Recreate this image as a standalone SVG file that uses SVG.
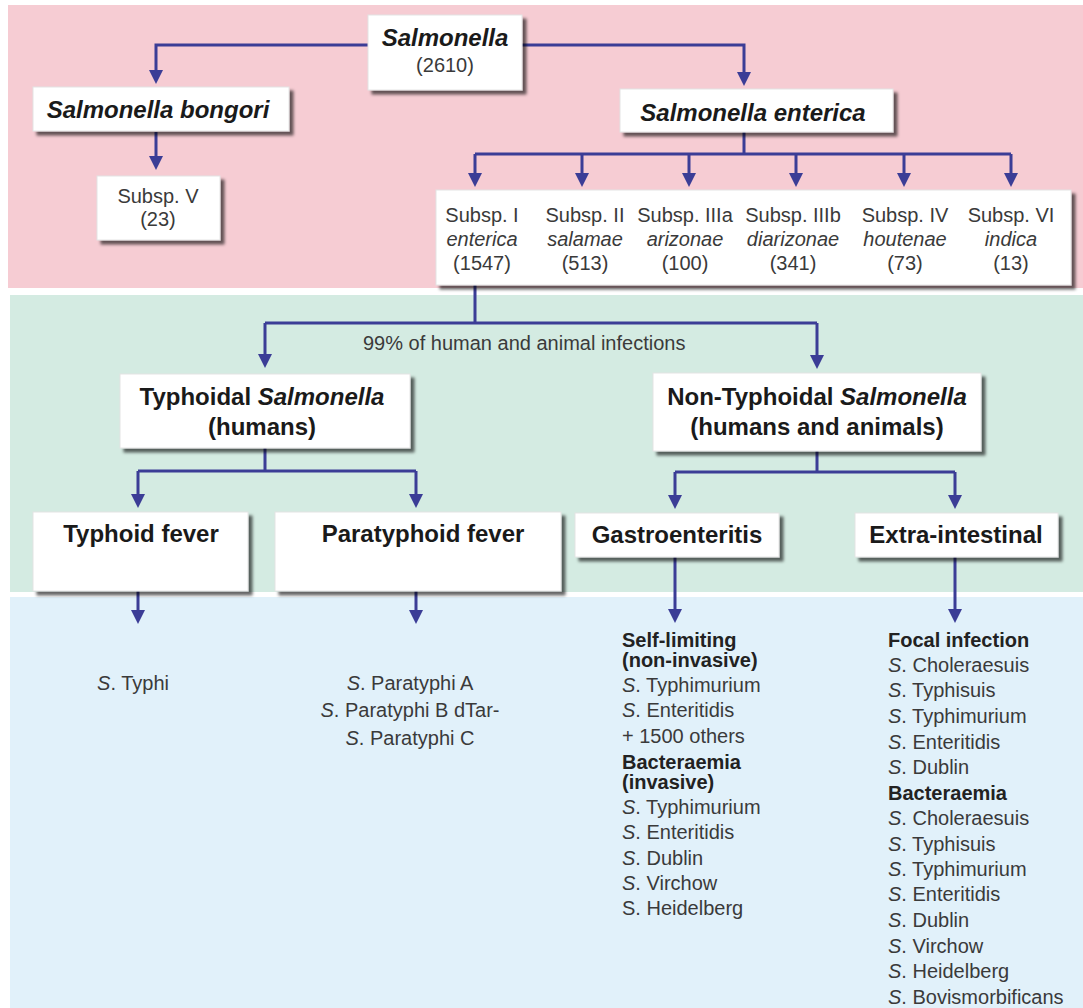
<svg xmlns="http://www.w3.org/2000/svg" width="1083" height="1008" viewBox="0 0 1083 1008">
<defs>
<filter id="sh" x="-10%" y="-20%" width="130%" height="160%">
<feDropShadow dx="4" dy="4" stdDeviation="1.6" flood-color="#000" flood-opacity="0.6"/>
</filter>
<marker id="ah" viewBox="0 0 14 14" markerWidth="15" markerHeight="14" refX="10" refY="7" orient="auto" markerUnits="userSpaceOnUse">
<path d="M0,0 L14,7 L0,14 z" fill="#3b3d96"/>
</marker>
<style>
.box{fill:#fff;stroke:#e4e4e4;stroke-width:1;filter:url(#sh)}
.t{font-family:"Liberation Sans",Arial,sans-serif;font-size:20px;fill:#3a3a3a}
.b{font-family:"Liberation Sans",Arial,sans-serif;font-size:24px;font-weight:bold;fill:#1a1a1a}
.h{font-family:"Liberation Sans",Arial,sans-serif;font-size:20px;font-weight:bold;fill:#222}
.c{text-anchor:middle}
.i{font-style:italic}
.ln{fill:none;stroke:#3b3d96;stroke-width:3}
</style>
</defs>
<rect width="1083" height="1008" fill="#fff"/>
<rect x="8" y="5" width="1075" height="283" fill="#f6ccd3"/>
<rect x="10" y="295" width="1073" height="297" fill="#d4ebe2"/>
<rect x="10" y="597" width="1073" height="411" fill="#e1f1fa"/>

<g id="connectors">
<path class="ln" d="M368,45 H156 V80" marker-end="url(#ah)"/>
<path class="ln" d="M522,45 H744 V82" marker-end="url(#ah)"/>
<path class="ln" d="M156,132 V166" marker-end="url(#ah)"/>
<path class="ln" d="M744,132 V154 M475,154 H1011"/>
<path class="ln" d="M475,154 V183" marker-end="url(#ah)"/>
<path class="ln" d="M582,154 V183" marker-end="url(#ah)"/>
<path class="ln" d="M689,154 V183" marker-end="url(#ah)"/>
<path class="ln" d="M796,154 V183" marker-end="url(#ah)"/>
<path class="ln" d="M904,154 V183" marker-end="url(#ah)"/>
<path class="ln" d="M1011,154 V183" marker-end="url(#ah)"/>
<path class="ln" d="M475,285 V323 M265,323 H817"/>
<path class="ln" d="M265,323 V364" marker-end="url(#ah)"/>
<path class="ln" d="M817,323 V365" marker-end="url(#ah)"/>
<path class="ln" d="M265,448 V471 M138,471 H416"/>
<path class="ln" d="M138,471 V504" marker-end="url(#ah)"/>
<path class="ln" d="M416,471 V504" marker-end="url(#ah)"/>
<path class="ln" d="M817,451 V472 M675,472 H955"/>
<path class="ln" d="M675,472 V505" marker-end="url(#ah)"/>
<path class="ln" d="M955,472 V505" marker-end="url(#ah)"/>
<path class="ln" d="M138,591 V620" marker-end="url(#ah)"/>
<path class="ln" d="M416,591 V620" marker-end="url(#ah)"/>
<path class="ln" d="M675,557 V619" marker-end="url(#ah)"/>
<path class="ln" d="M955,557 V619" marker-end="url(#ah)"/>
<text class="t" x="363" y="350">99% of human and animal infections</text>
</g>

<g id="n-salmonella">
<rect class="box" x="368" y="15" width="154" height="75"/>
<text class="b i c" x="445" y="46">Salmonella</text>
<text class="t c" x="445" y="72">(2610)</text>
</g>
<g id="n-bongori">
<rect class="box" x="33" y="87" width="256" height="44"/>
<text class="b i c" x="158" y="118">Salmonella bongori</text>
</g>
<g id="n-subspV">
<rect class="box" x="97" y="176" width="123" height="64"/>
<text class="t c" x="158" y="203">Subsp. V</text>
<text class="t c" x="158" y="226">(23)</text>
</g>
<g id="n-enterica">
<rect class="box" x="620" y="89" width="273" height="43"/>
<text class="b i c" x="753" y="121">Salmonella enterica</text>
</g>
<g id="n-subsp">
<rect class="box" x="436" y="190" width="635" height="95"/>
<text class="t c" x="482" y="222">Subsp. I</text>
<text class="t c i" x="482" y="246">enterica</text>
<text class="t c" x="482" y="270">(1547)</text>
<text class="t c" x="585" y="222">Subsp. II</text>
<text class="t c i" x="585" y="246">salamae</text>
<text class="t c" x="585" y="270">(513)</text>
<text class="t c" x="685" y="222">Subsp. IIIa</text>
<text class="t c i" x="685" y="246">arizonae</text>
<text class="t c" x="685" y="270">(100)</text>
<text class="t c" x="793" y="222">Subsp. IIIb</text>
<text class="t c i" x="793" y="246">diarizonae</text>
<text class="t c" x="793" y="270">(341)</text>
<text class="t c" x="905" y="222">Subsp. IV</text>
<text class="t c i" x="905" y="246">houtenae</text>
<text class="t c" x="905" y="270">(73)</text>
<text class="t c" x="1011" y="222">Subsp. VI</text>
<text class="t c i" x="1011" y="246">indica</text>
<text class="t c" x="1011" y="270">(13)</text>
</g>
<g id="n-typhoidal">
<rect class="box" x="120" y="374" width="290" height="74"/>
<text class="b c" x="262" y="405">Typhoidal <tspan class="i">Salmonella</tspan></text>
<text class="b c" x="262" y="435">(humans)</text>
</g>
<g id="n-nontyphoidal">
<rect class="box" x="653" y="373" width="328" height="78"/>
<text class="b c" x="817" y="405">Non-Typhoidal <tspan class="i">Salmonella</tspan></text>
<text class="b c" x="817" y="435">(humans and animals)</text>
</g>
<g id="n-typhoid">
<rect class="box" x="33" y="512" width="215" height="79"/>
<text class="b c" x="141" y="542">Typhoid fever</text>
</g>
<g id="n-paratyphoid">
<rect class="box" x="275" y="512" width="286" height="79"/>
<text class="b c" x="423" y="542">Paratyphoid fever</text>
</g>
<g id="n-gastro">
<rect class="box" x="575" y="513" width="204" height="44"/>
<text class="b c" x="677" y="543">Gastroenteritis</text>
</g>
<g id="n-extra">
<rect class="box" x="855" y="513" width="203" height="44"/>
<text class="b c" x="956" y="543">Extra-intestinal</text>
</g>

<g id="n-typhi">
<text class="t c" x="133" y="690"><tspan class="i">S</tspan>. Typhi</text>
</g>
<g id="n-paratyphi">
<text class="t c" x="410" y="690"><tspan class="i">S</tspan>. Paratyphi A</text>
<text class="t c" x="410" y="717"><tspan class="i">S</tspan>. Paratyphi B dTar-</text>
<text class="t c" x="410" y="745"><tspan class="i">S</tspan>. Paratyphi C</text>
</g>
<g id="n-gastro-list">
<text class="h" x="622" y="647">Self-limiting</text>
<text class="h" x="622" y="667">(non-invasive)</text>
<text class="t" x="622" y="692"><tspan class="i">S</tspan>. Typhimurium</text>
<text class="t" x="622" y="717"><tspan class="i">S</tspan>. Enteritidis</text>
<text class="t" x="622" y="743">+ 1500 others</text>
<text class="h" x="622" y="769">Bacteraemia</text>
<text class="h" x="622" y="789">(invasive)</text>
<text class="t" x="622" y="814"><tspan class="i">S</tspan>. Typhimurium</text>
<text class="t" x="622" y="839"><tspan class="i">S</tspan>. Enteritidis</text>
<text class="t" x="622" y="865"><tspan class="i">S</tspan>. Dublin</text>
<text class="t" x="622" y="890"><tspan class="i">S</tspan>. Virchow</text>
<text class="t" x="622" y="915">S. Heidelberg</text>
</g>
<g id="n-extra-list">
<text class="h" x="888" y="647">Focal infection</text>
<text class="t" x="888" y="672"><tspan class="i">S</tspan>. Choleraesuis</text>
<text class="t" x="888" y="697"><tspan class="i">S</tspan>. Typhisuis</text>
<text class="t" x="888" y="723"><tspan class="i">S</tspan>. Typhimurium</text>
<text class="t" x="888" y="749"><tspan class="i">S</tspan>. Enteritidis</text>
<text class="t" x="888" y="774"><tspan class="i">S</tspan>. Dublin</text>
<text class="h" x="888" y="800">Bacteraemia</text>
<text class="t" x="888" y="825"><tspan class="i">S</tspan>. Choleraesuis</text>
<text class="t" x="888" y="851"><tspan class="i">S</tspan>. Typhisuis</text>
<text class="t" x="888" y="876"><tspan class="i">S</tspan>. Typhimurium</text>
<text class="t" x="888" y="901"><tspan class="i">S</tspan>. Enteritidis</text>
<text class="t" x="888" y="927"><tspan class="i">S</tspan>. Dublin</text>
<text class="t" x="888" y="953"><tspan class="i">S</tspan>. Virchow</text>
<text class="t" x="888" y="978"><tspan class="i">S</tspan>. Heidelberg</text>
<text class="t" x="888" y="1004"><tspan class="i">S</tspan>. Bovismorbificans</text>
</g>
</svg>
